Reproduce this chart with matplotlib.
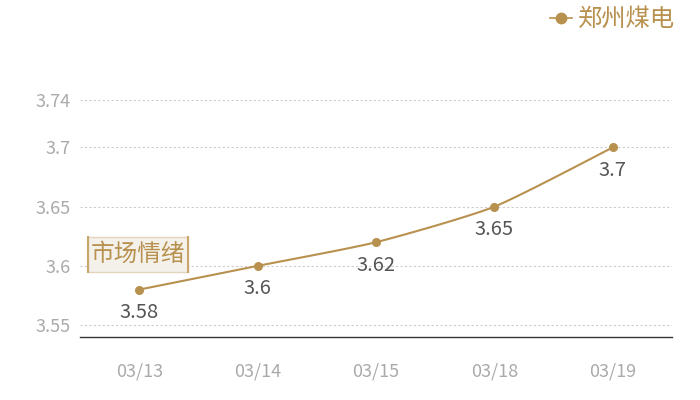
import matplotlib
matplotlib.use('Agg')
import matplotlib.pyplot as plt
from matplotlib.patches import Rectangle
import numpy as np

plt.rcParams['font.family'] = ['Noto Sans CJK SC', 'DejaVu Sans']

dates = ['03/13', '03/14', '03/15', '03/18', '03/19']
values = [3.58, 3.6, 3.62, 3.65, 3.7]
yticks = [3.55, 3.6, 3.65, 3.7, 3.74]
ytick_labels = ['3.55', '3.6', '3.65', '3.7', '3.74']
series_name = '郑州煤电'
tag_text = '市场情绪'

gold = '#b8914f'
grey = '#aaaaaa'


def smooth(x, y, s=0.2, n=30):
    # bezier smoothing between points, similar to echarts smooth line
    x = np.asarray(x, float)
    y = np.asarray(y, float)
    xs, ys = [], []
    for i in range(len(x) - 1):
        p0 = np.array([x[max(i - 1, 0)], y[max(i - 1, 0)]])
        p1 = np.array([x[i], y[i]])
        p2 = np.array([x[i + 1], y[i + 1]])
        p3 = np.array([x[min(i + 2, len(x) - 1)], y[min(i + 2, len(x) - 1)]])
        c1 = p1 + (p2 - p0) * s / 2
        c2 = p2 - (p3 - p1) * s / 2
        t = np.linspace(0, 1, n)[:, None]
        pts = ((1 - t) ** 3) * p1 + 3 * ((1 - t) ** 2) * t * c1 + 3 * (1 - t) * t ** 2 * c2 + t ** 3 * p2
        xs.extend(pts[:, 0])
        ys.extend(pts[:, 1])
    return xs, ys


fig = plt.figure(figsize=(7, 4), dpi=100)
ax = fig.add_axes([80 / 700, 63 / 400, 592 / 700, 237 / 400])

x = np.arange(len(dates))
sx, sy = smooth(x, values)
ax.plot(sx, sy, color=gold, lw=1.5, zorder=3)
ax.plot(x, values, 'o', color=gold, ms=5.5, zorder=4)

for xi, v in zip(x, values):
    ax.annotate(f'{v:g}', (xi, v), xytext=(0, -9), textcoords='offset points',
                ha='center', va='top', fontsize=14.5, color='#555555')

ax.set_xlim(-0.5, len(dates) - 0.5)
ax.set_ylim(3.54, 3.74)
ax.set_xticks(x)
ax.set_xticklabels(dates)
ax.set_yticks(yticks)
ax.set_yticklabels(ytick_labels)
ax.tick_params(axis='both', length=0, colors=grey, labelsize=13)
ax.tick_params(axis='x', pad=18)
ax.tick_params(axis='y', pad=7)
ax.grid(axis='y', color='#cccccc', lw=0.8, ls=(0, (2, 2)))
for side in ['top', 'right', 'left']:
    ax.spines[side].set_visible(False)
ax.spines['bottom'].set_color('#333333')
ax.spines['bottom'].set_linewidth(1)

# tag box
x0, x1, y0, y1 = 88 / 700, 188 / 700, 1 - 272 / 400, 1 - 237 / 400
fig.add_artist(Rectangle((x0, y0), x1 - x0, y1 - y0, transform=fig.transFigure,
                         fc='#f4f0ea', ec='#e3d5bd', lw=1))
fig.add_artist(plt.Line2D([x0, x0], [y0, y1], color='#c9a66b', lw=1.5))
fig.add_artist(plt.Line2D([x1, x1], [y0, y1], color='#c9a66b', lw=1.5))
fig.text((x0 + x1) / 2, (y0 + y1) / 2, tag_text, ha='center', va='center', fontsize=17, color=gold)

# legend
fig.text(578 / 700, 1 - 19 / 400, series_name, ha='left', va='center', fontsize=17.5, color=gold)
fig.add_artist(plt.Line2D([550 / 700, 572 / 700], [1 - 18 / 400] * 2, color=gold, lw=1.2))
fig.add_artist(plt.Line2D([561 / 700], [1 - 18 / 400], marker='o', color=gold, ms=7.5))

fig.savefig('out.png', dpi=100)
